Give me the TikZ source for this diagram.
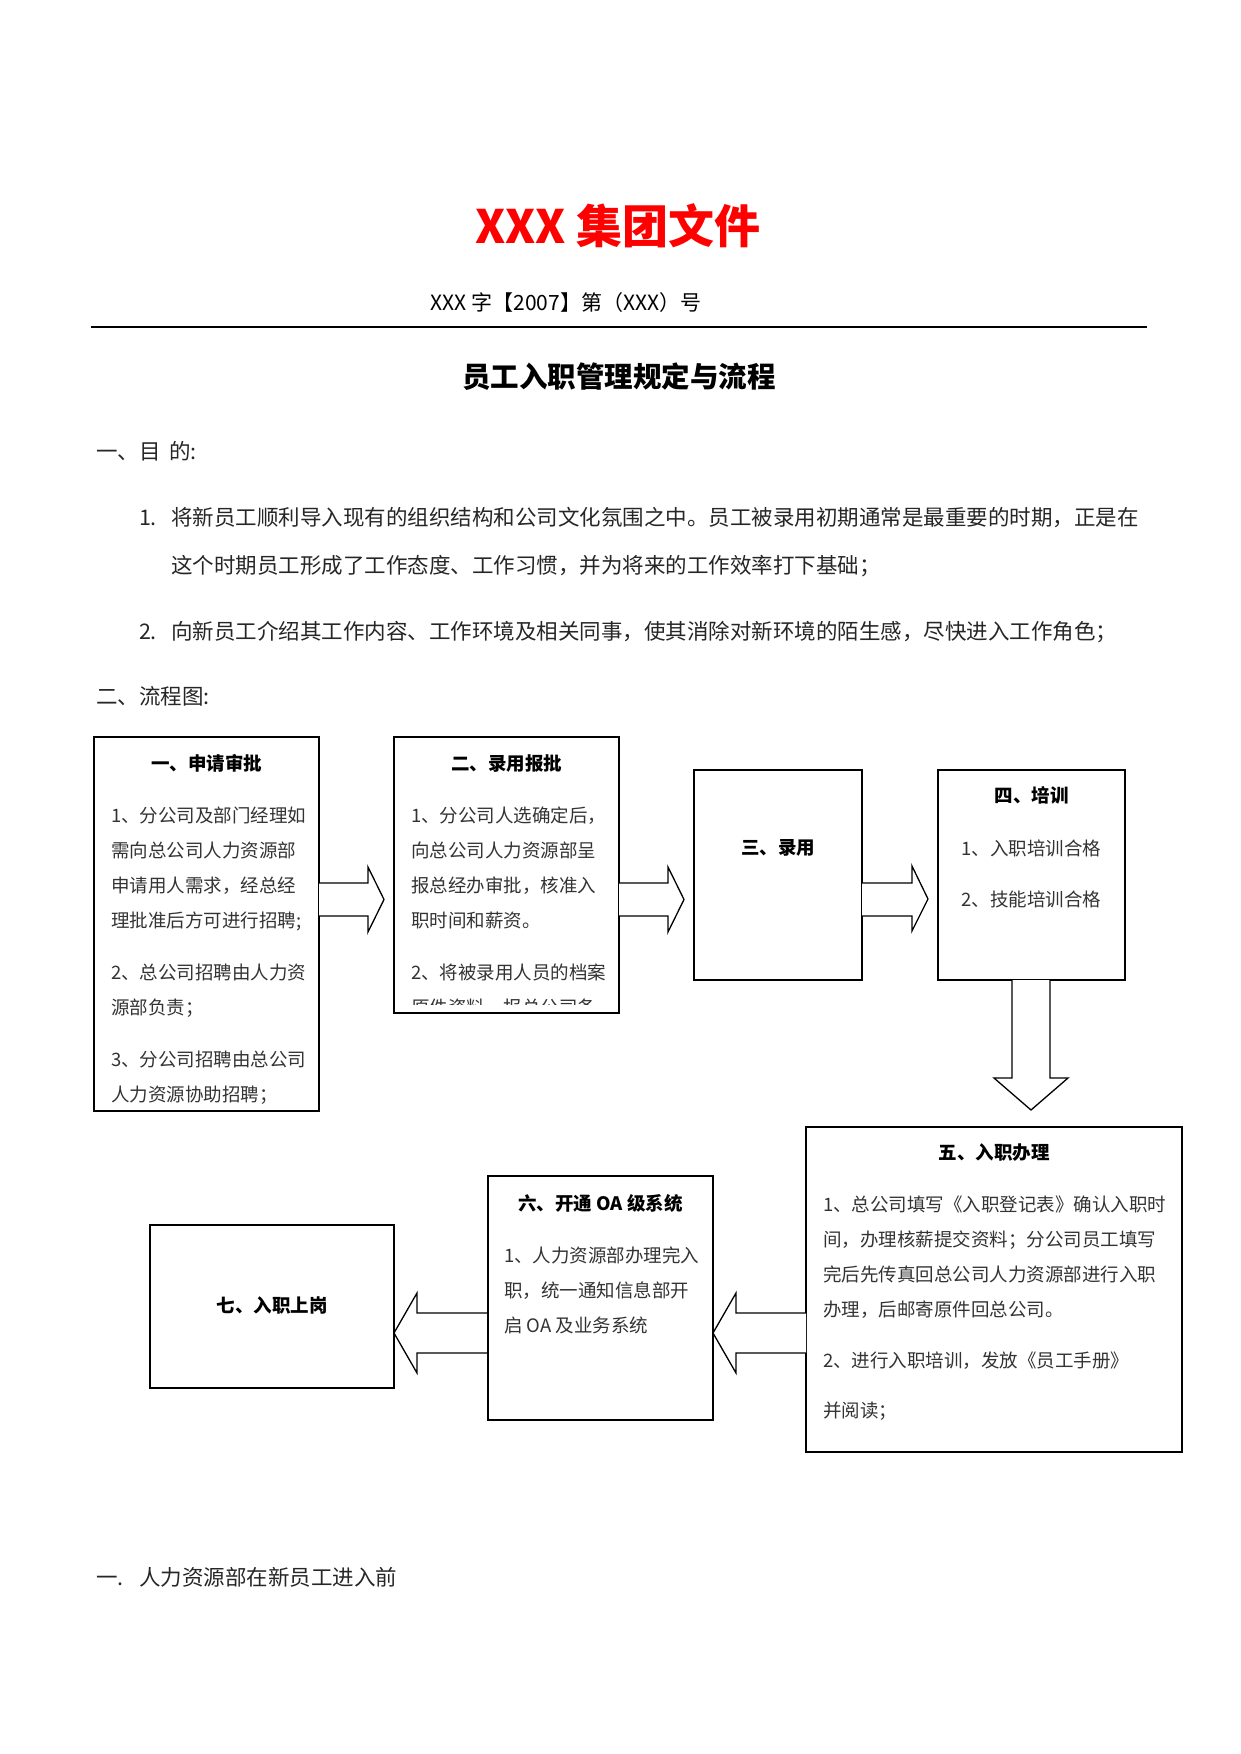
\documentclass[tikz,border=0pt]{standalone}
\usepackage{fontspec}
\setmainfont{Noto Sans CJK SC}
\begin{document}
\begin{tikzpicture}[x=1pt,y=-1pt,
  every node/.style={inner sep=0pt, outer sep=0pt},
  stepbox/.style={draw, line width=1.6pt},
  thinbox/.style={draw, line width=1.1pt},
  txt/.style={anchor=west, yshift=-4pt, text height=0.83em, text depth=0.1em, font=\fontsize{18.5}{20}\selectfont, text=black!80},
  ctxt/.style={anchor=center, yshift=-4pt, text height=0.83em, text depth=0.1em, font=\fontsize{18.5}{20}\selectfont, text=black!80},
  hd/.style={anchor=center, yshift=-3pt, text height=0.83em, text depth=0.1em, font=\fontsize{18.5}{20}\selectfont\bfseries},
  body/.style={anchor=west, yshift=-4pt, text height=0.83em, text depth=0.1em, font=\fontsize{21.5}{24}\selectfont, text=black!85},
  blk/.style={draw, fill=white, line width=1.3pt, line join=miter}
]
\useasboundingbox (0,0) rectangle (1241,1754);
\fill[white] (0,0) rectangle (1241,1754);

% header
\node[font=\fontsize{46}{50}\selectfont\bfseries, text=red] (title) at (618,226) {XXX 集团文件};
\node[font=\fontsize{21}{24}\selectfont, text height=0.83em, text depth=0.1em] (sub) at (566,307) {XXX 字【2007】第（XXX）号};
\coordinate (rl) at (91,327);
\coordinate (rr) at (1147,327);
\draw[line width=1.4pt] (rl) -- (rr);
\node[font=\fontsize{28.5}{32}\selectfont\bfseries, text height=0.83em, text depth=0.1em] (doc) at (619,384) {员工入职管理规定与流程};

% paragraphs
\node[body] (h1) at (96,452) {一、目\hspace{0.4em}的:};
\node[body] (n1) at (139,518) {1.};
\node[body] (p1a) at (171,518) {将新员工顺利导入现有的组织结构和公司文化氛围之中。员工被录用初期通常是最重要的时期，正是在};
\node[body] (p1b) at (171,566) {这个时期员工形成了工作态度、工作习惯，并为将来的工作效率打下基础；};
\node[body] (n2) at (139,632) {2.};
\node[body] (p2) at (171,632) {向新员工介绍其工作内容、工作环境及相关同事，使其消除对新环境的陌生感，尽快进入工作角色；};
\node[body] (h2) at (96,697) {二、流程图:};

% boxes
\node[stepbox, minimum width=225pt, minimum height=374pt] (b1) at (206.5,924) {};
\node[stepbox, minimum width=225pt, minimum height=276pt] (b2) at (506.5,875) {};
\node[thinbox, minimum width=168pt, minimum height=210pt] (b3) at (778,875) {};
\node[thinbox, minimum width=187pt, minimum height=210pt] (b4) at (1031.5,875) {};
\node[stepbox, minimum width=376pt, minimum height=325pt] (b5) at (994,1289.5) {};
\node[thinbox, minimum width=225pt, minimum height=244pt] (b6) at (600.5,1298) {};
\node[stepbox, minimum width=244pt, minimum height=163pt] (b7) at (272,1306.5) {};

% box 1 text
\node[hd] (t1) at (206.5,764) {一、申请审批};
\node[txt] (b1l1) at (111,815) {1、分公司及部门经理如};
\node[txt] (b1l2) at (111,850) {需向总公司人力资源部};
\node[txt] (b1l3) at (111,885) {申请用人需求，经总经};
\node[txt] (b1l4) at (111,920) {理批准后方可进行招聘;};
\node[txt] (b1l5) at (111,972) {2、总公司招聘由人力资};
\node[txt] (b1l6) at (111,1007) {源部负责；};
\node[txt] (b1l7) at (111,1059) {3、分公司招聘由总公司};
\node[txt] (b1l8) at (111,1094) {人力资源协助招聘；};

% box 2 text
\node[hd] (t2) at (506.5,764) {二、录用报批};
\node[txt] (b2l1) at (411,815) {1、分公司人选确定后，};
\node[txt] (b2l2) at (411,850) {向总公司人力资源部呈};
\node[txt] (b2l3) at (411,885) {报总经办审批，核准入};
\node[txt] (b2l4) at (411,920) {职时间和薪资。};
\node[txt] (b2l5) at (411,972) {2、将被录用人员的档案};
\begin{scope}
\clip (395,738) rectangle (618,1004);
\node[txt] (b2l6) at (411,1007) {原件资料，报总公司备};
\end{scope}

% box 3 text
\node[hd] (t3) at (778,848) {三、录用};

% box 4 text
\node[hd] (t4) at (1031.5,796) {四、培训};
\node[ctxt] (b4l1) at (1031.5,848) {1、入职培训合格};
\node[ctxt] (b4l2) at (1031.5,899) {2、技能培训合格};

% box 5 text
\node[hd] (t5) at (994,1153) {五、入职办理};
\node[txt] (b5l1) at (823,1204) {1、总公司填写《入职登记表》确认入职时};
\node[txt] (b5l2) at (823,1239) {间，办理核薪提交资料；分公司员工填写};
\node[txt] (b5l3) at (823,1274) {完后先传真回总公司人力资源部进行入职};
\node[txt] (b5l4) at (823,1309) {办理，后邮寄原件回总公司。};
\node[txt] (b5l5) at (823,1360) {2、进行入职培训，发放《员工手册》};
\node[txt] (b5l6) at (823,1410) {并阅读；};

% box 6 text
\node[hd] (t6) at (600.5,1204) {六、开通 OA 级系统};
\node[txt] (b6l1) at (504,1255) {1、人力资源部办理完入};
\node[txt] (b6l2) at (504,1290) {职，统一通知信息部开};
\node[txt] (b6l3) at (504,1325) {启 OA 及业务系统};

% box 7 text
\node[hd] (t7) at (272,1306) {七、入职上岗};

% block arrows
\draw[blk] (b1.east |- 0,883) -- (368,883) -- (368,867) -- (384,899.5) -- (368,932) -- (368,916) -- (b1.east |- 0,916);
\draw[blk] (b2.east |- 0,883) -- (668,883) -- (668,867) -- (684,899.5) -- (668,932) -- (668,916) -- (b2.east |- 0,916);
\draw[blk] (b3.east |- 0,883) -- (912,883) -- (912,866) -- (928,899) -- (912,931) -- (912,916) -- (b3.east |- 0,916);
\draw[blk] (b4.south -| 1012,0) -- (1012,1078) -- (994,1078) -- (1031,1110) -- (1068,1078) -- (1050,1078) -- (b4.south -| 1050,0);
\draw[blk] (b5.west |- 0,1313) -- (736,1313) -- (736,1293) -- (b6.east |- 0,1333) -- (736,1373) -- (736,1353) -- (b5.west |- 0,1353);
\draw[blk] (b6.west |- 0,1313) -- (417,1313) -- (417,1293) -- (b7.east |- 0,1333) -- (417,1373) -- (417,1353) -- (b6.west |- 0,1353);
\draw[stepbox] (b7.north west) rectangle (b7.south east);
\draw[thinbox] (b6.north west) rectangle (b6.south east);

% footer
\node[body] (f1) at (96,1578) {一.};
\node[body] (f2) at (139,1578) {人力资源部在新员工进入前};
\end{tikzpicture}
\end{document}
